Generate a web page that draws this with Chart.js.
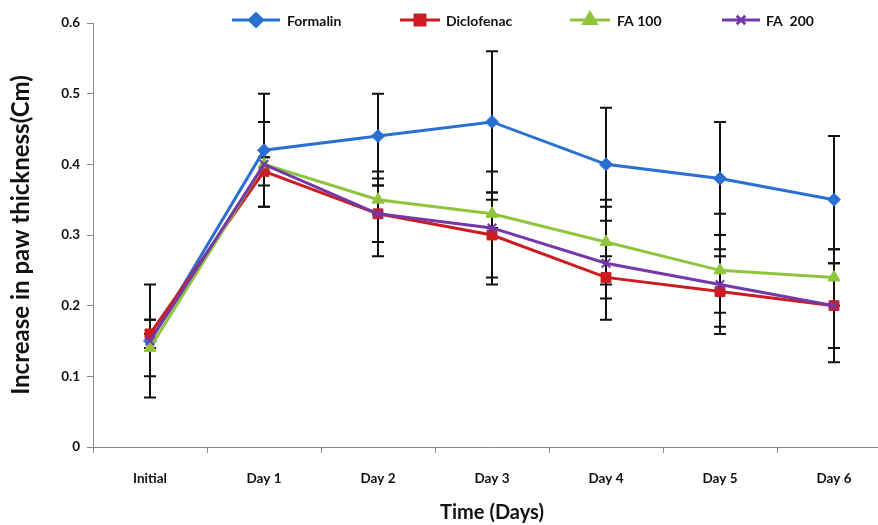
<!DOCTYPE html>
<html>
<head>
<meta charset="utf-8">
<script src="https://cdn.jsdelivr.net/npm/chart.js@4/dist/chart.umd.min.js"></script>
<style>
  html, body { margin: 0; padding: 0; background: #fff; overflow: hidden; }
  #wrap { width: 900px; height: 525px; position: relative; }
</style>
</head>
<body>
<div id="wrap"><canvas id="c" width="900" height="525"></canvas></div>
<script>
const categories = ['Initial', 'Day 1', 'Day 2', 'Day 3', 'Day 4', 'Day 5', 'Day 6'];
const seriesNames = ['Formalin', 'Diclofenac', 'FA 100', 'FA  200'];
const formalin    = [0.15, 0.42, 0.44, 0.46, 0.40, 0.38, 0.35];
const diclofenac  = [0.16, 0.39, 0.33, 0.30, 0.24, 0.22, 0.20];
const fa100       = [0.14, 0.40, 0.35, 0.33, 0.29, 0.25, 0.24];
const fa200       = [0.15, 0.40, 0.33, 0.31, 0.26, 0.23, 0.20];
const formalinErr   = [0.08, 0.08, 0.06, 0.10, 0.08, 0.08, 0.09];
const diclofenacErr = [0.02, 0.02, 0.06, 0.06, 0.03, 0.06, 0.08];
const fa100Err      = [0.04, 0.06, 0.02, 0.02, 0.06, 0.08, 0.04];
const fa200Err      = [0.01, 0.01, 0.04, 0.08, 0.08, 0.04, 0.06];
const yTicks = [0, 0.1, 0.2, 0.3, 0.4, 0.5, 0.6];

const FONT = 'Lato, "Open Sans", "Liberation Sans", sans-serif';

const errorBars = {
  id: 'errorBars',
  beforeDatasetsDraw(chart) {
    const ctx = chart.ctx, y = chart.scales.y;
    ctx.save();
    ctx.strokeStyle = '#111';
    chart.data.datasets.forEach((ds, i) => {
      const meta = chart.getDatasetMeta(i);
      meta.data.forEach((pt, j) => {
        const v = ds.data[j], e = ds.errors[j];
        const yt = y.getPixelForValue(v + e), yb = y.getPixelForValue(v - e);
        ctx.lineWidth = 2;
        ctx.beginPath(); ctx.moveTo(pt.x, yt); ctx.lineTo(pt.x, yb); ctx.stroke();
        ctx.beginPath();
        ctx.moveTo(pt.x - 6, yt); ctx.lineTo(pt.x + 6, yt);
        ctx.moveTo(pt.x - 6, yb); ctx.lineTo(pt.x + 6, yb);
        ctx.stroke();
      });
    });
    ctx.restore();
  }
};

const customLegend = {
  id: 'customLegend',
  afterDraw(chart) {
    const ctx = chart.ctx;
    const pos = [[232, 280, 287], [400, 440, 446], [570, 610, 617], [722, 760, 766]];
    const yy = 20;
    ctx.save();
    chart.data.datasets.forEach((ds, i) => {
      const [x0, x1, tx] = pos[i];
      ctx.strokeStyle = ds.borderColor;
      ctx.lineWidth = 3;
      ctx.beginPath(); ctx.moveTo(x0, yy); ctx.lineTo(x1, yy); ctx.stroke();
      ctx.fillStyle = ds.pointBackgroundColor;
      ctx.strokeStyle = ds.pointBorderColor;
      Chart.helpers.drawPoint(ctx, {
        pointStyle: ds.pointStyle, radius: ds.pointRadius, rotation: 0,
        borderWidth: ds.pointBorderWidth
      }, (x0 + x1) / 2, yy);
      ctx.fillStyle = '#111';
      ctx.font = 'bold 14px ' + FONT;
      ctx.textBaseline = 'middle';
      ctx.textAlign = 'left';
      ctx.fillText(ds.label, tx, yy + 1);
    });
    ctx.restore();
  }
};

function mk(label, data, errors, color, style, radius, order) {
  return {
    label, data, errors, order,
    borderColor: color, backgroundColor: color,
    pointBackgroundColor: color, pointBorderColor: color,
    pointStyle: style, pointRadius: radius, pointHoverRadius: radius,
    pointBorderWidth: style === 'crossRot' ? 2 : 1,
    borderWidth: 3, tension: 0, fill: false
  };
}

new Chart(document.getElementById('c'), {
  type: 'line',
  data: {
    labels: categories,
    datasets: [
      mk(seriesNames[0], formalin, formalinErr, '#2a6fd2', 'rectRot', 6.5, 4),
      mk(seriesNames[1], diclofenac, diclofenacErr, '#cc1c22', 'rect', 7, 3),
      mk(seriesNames[2], fa100, fa100Err, '#8fc43d', 'triangle', 7, 2),
      mk(seriesNames[3], fa200, fa200Err, '#7438a8', 'crossRot', 6, 1)
    ]
  },
  options: {
    responsive: false,
    animation: false,
    layout: { padding: { top: 23, right: 9, left: 7, bottom: 0 } },
    plugins: { legend: { display: false }, tooltip: { enabled: false } },
    scales: {
      x: {
        type: 'category',
        offset: true,
        grid: { display: true, offset: true, drawOnChartArea: false, drawTicks: true, tickLength: 6, color: '#888', lineWidth: 1 },
        border: { display: true, color: '#888', width: 1 },
        ticks: { color: '#111', font: { family: FONT, size: 13.5, weight: 'bold' }, padding: 18, maxRotation: 0 },
        title: { display: true, text: 'Time (Days)', color: '#111', font: { family: FONT, size: 20, weight: 'bold' }, padding: { top: 8, bottom: 0 } },
        afterFit(s) { s.height = 78; }
      },
      y: {
        min: 0, max: 0.6,
        afterBuildTicks(s) { s.ticks = yTicks.map(v => ({ value: v })); },
        grid: { display: true, drawOnChartArea: false, drawTicks: true, tickLength: 6, color: '#888', lineWidth: 1 },
        border: { display: true, color: '#888', width: 1 },
        ticks: { color: '#111', font: { family: FONT, size: 13.5, weight: 'bold' }, padding: 7,
                 callback: v => String(v) },
        title: { display: true, text: 'Increase in paw thickness(Cm)', color: '#111', font: { family: FONT, size: 24, weight: 'bold' }, padding: { top: 0, bottom: 4 } },
        afterFit(s) { s.width = 86; }
      }
    }
  },
  plugins: [errorBars, customLegend]
});
</script>
</body>
</html>
